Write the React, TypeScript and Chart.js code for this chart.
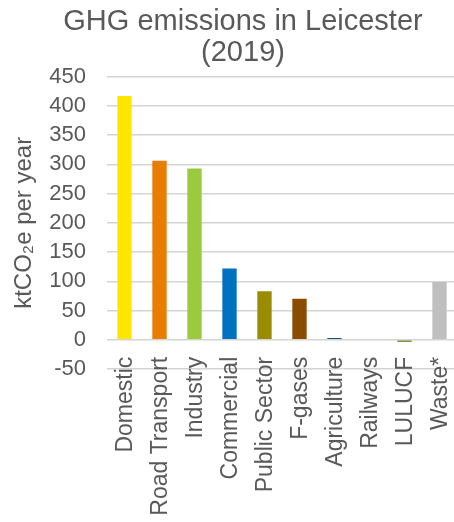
import React, { useEffect, useRef } from "react";
import { Chart, registerables } from "chart.js";

Chart.register(...registerables);

const titleLines = ["GHG emissions in Leicester", "(2019)"];
const yAxisTitle = "ktCO₂e per year";
const categories = [
  "Domestic",
  "Road Transport",
  "Industry",
  "Commercial",
  "Public Sector",
  "F-gases",
  "Agriculture",
  "Railways",
  "LULUCF",
  "Waste*",
];
const emissions = [417, 306, 293, 122, 83, 70, 3, 0, -4, 99];
const barColors = [
  "#FFE600",
  "#E97D00",
  "#9ACB3C",
  "#0070C0",
  "#998C00",
  "#8B4C00",
  "#1F4E79",
  "#7F7F7F",
  "#77933C",
  "#BFBFBF",
];
const yMin = -50;
const yMax = 450;
const yStep = 50;

const FONT = "'Liberation Sans', Arial, sans-serif";
const TEXT = "#595959";

// Draws the rotated category labels so that they start just below the zero line,
// overlapping the lowest gridline as in the original chart.
const categoryLabelPlugin = {
  id: "categoryLabels",
  afterDraw(chart: any) {
    const xScale = chart.scales.x;
    const yScale = chart.scales.y;
    const ctx = chart.ctx;
    const zeroY = yScale.getPixelForValue(0);
    ctx.save();
    ctx.fillStyle = TEXT;
    ctx.font = `23px ${FONT}`;
    ctx.textAlign = "right";
    ctx.textBaseline = "middle";
    categories.forEach((label, i) => {
      const x = xScale.getPixelForTick(i);
      ctx.save();
      ctx.translate(x + 1, zeroY + 17);
      ctx.rotate(-Math.PI / 2);
      ctx.fillText(label, 0, 0);
      ctx.restore();
    });
    ctx.restore();
  },
};

export default function App() {
  const ref = useRef<HTMLCanvasElement | null>(null);

  useEffect(() => {
    document.body.style.overflow = "hidden";
    const canvas = ref.current;
    if (!canvas) return;
    const chart = new Chart(canvas, {
      type: "bar",
      data: {
        labels: categories,
        datasets: [
          {
            data: emissions,
            backgroundColor: barColors,
            borderWidth: 0,
            barPercentage: 0.41,
            categoryPercentage: 1,
          },
        ],
      },
      plugins: [categoryLabelPlugin],
      options: {
        animation: false,
        responsive: false,
        devicePixelRatio: 1,
        layout: { padding: 0 },
        plugins: {
          legend: { display: false },
          tooltip: { enabled: false },
          title: {
            display: true,
            text: titleLines,
            color: TEXT,
            font: { family: FONT, size: 29, weight: "normal", lineHeight: 1.08 },
            padding: { top: 6, bottom: 8 },
          },
        },
        scales: {
          x: {
            grid: { display: false, drawTicks: false },
            border: { display: false },
            ticks: { display: false, autoSkip: false },
            afterFit: (scale: any) => {
              scale.height = 153;
            },
          },
          y: {
            min: yMin,
            max: yMax,
            ticks: {
              stepSize: yStep,
              autoSkip: false,
              color: TEXT,
              font: { family: FONT, size: 22 },
              padding: 21,
            },
            grid: {
              color: "#D4D4D4",
              lineWidth: 1.5,
              drawTicks: false,
            },
            border: { display: false },
            title: {
              display: true,
              text: yAxisTitle,
              color: TEXT,
              font: { family: FONT, size: 24 },
              padding: { top: 10, bottom: 0 },
            },
            afterFit: (scale: any) => {
              scale.width = 107;
            },
          },
          spacer: {
            type: "linear",
            position: "right",
            display: true,
            grid: { display: false, drawTicks: false },
            border: { display: false },
            ticks: { display: false },
            afterFit: (scale: any) => {
              scale.width = 29;
            },
          },
        },
      },
    });
    return () => chart.destroy();
  }, []);

  return (
    <div style={{ position: "fixed", left: 0, top: 0, width: 486, height: 522, background: "#fff" }}>
      <canvas ref={ref} width={486} height={522} style={{ display: "block" }} />
    </div>
  );
}
